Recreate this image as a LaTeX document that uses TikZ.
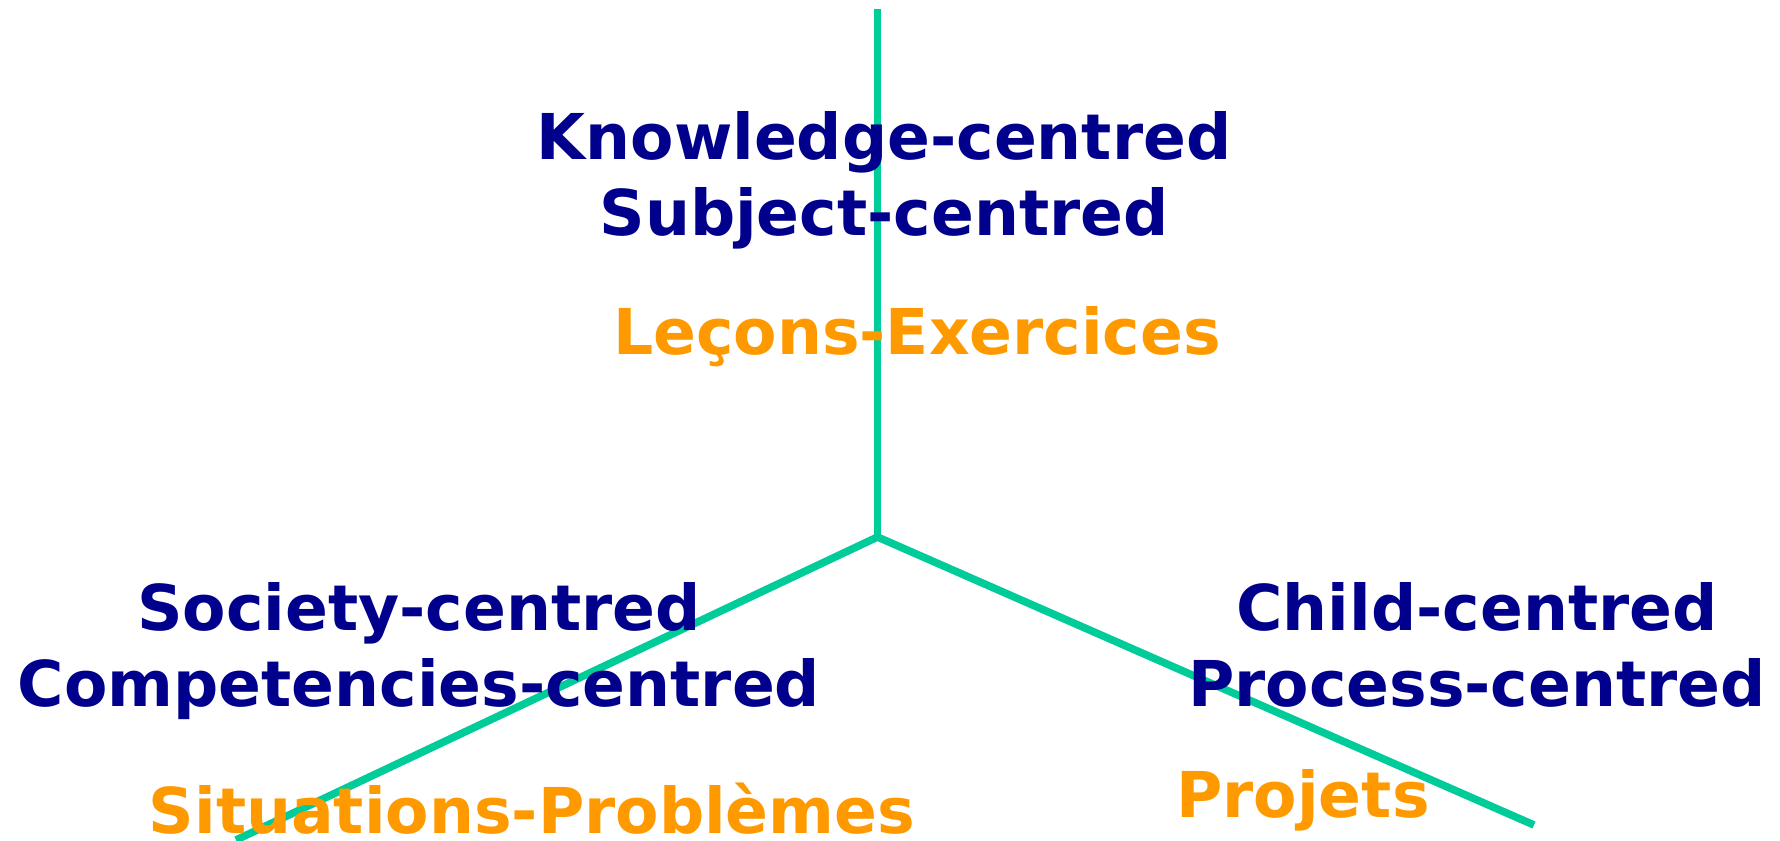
\documentclass[tikz,border=0pt]{standalone}
\usepackage{fontspec}
\setmainfont{DejaVu Sans}
\usepackage{tikz}

\definecolor{axisgreen}{RGB}{0,204,153}
\definecolor{navytext}{RGB}{0,0,140}
\definecolor{ambertext}{RGB}{255,153,0}

\tikzset{
  axis/.style={color=axisgreen, line width=3.8pt},
  focus/.style={color=navytext, font=\fontsize{31.6}{38}\selectfont\bfseries, align=center, inner sep=0pt, anchor=base},
  method/.style={color=ambertext, font=\fontsize{31.6}{38}\selectfont\bfseries, inner sep=0pt, anchor=base}
}

\begin{document}
\begin{tikzpicture}[x=0.5pt,y=0.5pt,yscale=-1,xscale=1]
\useasboundingbox (0,0) rectangle (1780,840);

%Axis ends
\coordinate (hub) at (877.5,537);
\coordinate (top) at (877.5,9);
\coordinate (left) at (236,840);
\coordinate (right) at (1534,825);

%Straight Lines
\draw [axis]   (hub) -- (top) ;
%Straight Lines
\draw [axis]   (hub) -- (left) ;
%Straight Lines
\draw [axis]   (hub) -- (right) ;

% Text Node (base = last line)
\node (knowledge) at (884,235) [focus] {Knowledge-centred\\Subject-centred};
% Text Node
\node (lecons) at (917,354) [method] {Leçons-Exercices};
% Text Node
\node (society) at (419,706) [focus] {Society-centred\\Competencies-centred};
% Text Node
\node (situations) at (532,833) [method] {Situations-Problèmes};
% Text Node
\node (child) at (1477,706) [focus] {Child-centred\\Process-centred};
% Text Node
\node (projets) at (1303,817) [method] {Projets};

\end{tikzpicture}
\end{document}
